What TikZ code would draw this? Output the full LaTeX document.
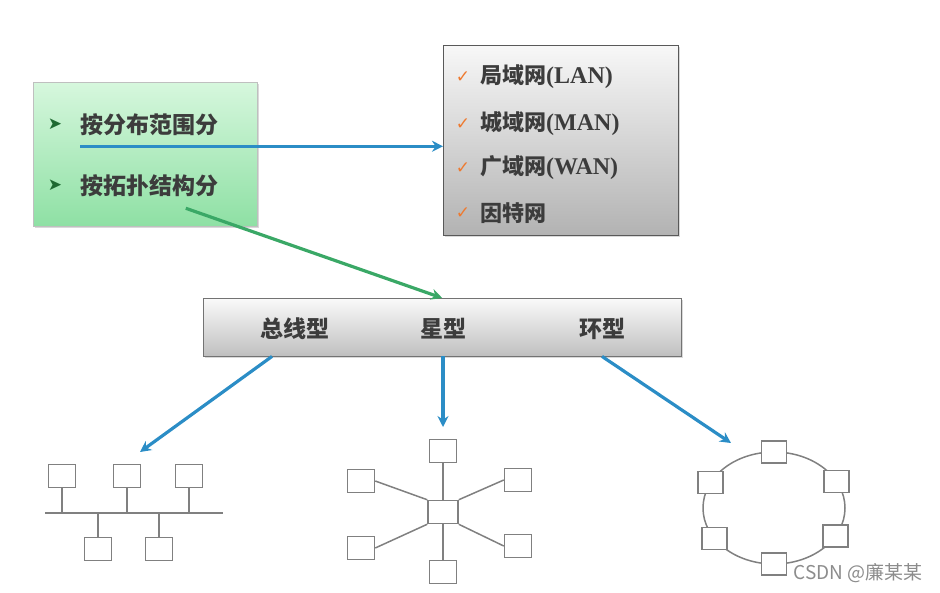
\documentclass[tikz,border=0pt]{standalone}
\usepackage{fontspec}
\setmainfont{Liberation Serif}
\newfontfamily\cjk{Noto Sans CJK SC}
\newfontfamily\symf{DejaVu Sans}
\usetikzlibrary{arrows.meta, calc, shadows}

\definecolor{linkblue}{HTML}{2B8DC6}
\definecolor{linkgreen}{HTML}{3AA866}
\definecolor{tickorange}{HTML}{EE7A30}
\definecolor{bulletgreen}{HTML}{1F6A32}
\definecolor{inkgray}{HTML}{3C3C3C}
\definecolor{mintlight}{HTML}{D6F7DD}
\definecolor{mintdark}{HTML}{8EE0A4}

\tikzset{
  panel/.style={anchor=north west, inner sep=0pt,
    drop shadow={shadow xshift=2pt, shadow yshift=-2pt, opacity=0.3}},
  txt/.style={font=\cjk\bfseries\fontsize{23}{26}\selectfont, text=inkgray, inner sep=0pt},
  bullet/.style={font=\symf\fontsize{17}{17}\selectfont, text=bulletgreen, inner sep=0pt},
  host/.style={draw=black!50, line width=1.5pt, fill=white, inner sep=0pt,
    minimum width=27pt, minimum height=23pt},
  wire/.style={draw=black!50, line width=1.5pt},
  link/.style={->, line width=3.2pt, linkblue}
}

\begin{document}
\begin{tikzpicture}[x=1pt, y=-1pt, >={Stealth[length=11pt, width=11pt]}]
    \useasboundingbox (0,0) rectangle (940,592);

    % classification panel
    \node[panel, draw=black!25, top color=mintlight, bottom color=mintdark,
      minimum width=224pt, minimum height=144pt] (scope) at (33,82) {};
    \node[bullet] (b1) at (55,124) {➤};
    \node[bullet] (b2) at (55,185) {➤};
    \node[txt, anchor=west] (byrange) at (80,125) {按分布范围分};
    \node[txt, anchor=west] (bytopo) at (80,186) {按拓扑结构分};

    % network kinds
    \node[panel, draw=black!65, top color=black!3, bottom color=black!30,
      minimum width=235pt, minimum height=190pt] (kinds) at (443,45) {};
    \foreach \n/\y/\txt in {1/77/{局域网}{\rmfamily\fontsize{24}{24}\selectfont(LAN)},
                           2/124/{城域网}{\rmfamily\fontsize{24}{24}\selectfont(MAN)},
                           3/168/{广域网}{\rmfamily\fontsize{24}{24}\selectfont(WAN)},
                           4/213/{因特网}} {
      \node[font=\symf\fontsize{17}{17}\selectfont, text=tickorange] (t\n) at (463,\y) {✓};
      \node[txt, font=\cjk\bfseries\fontsize{22}{24}\selectfont, anchor=west] (i\n) at (480,\y) {\txt};
    }

    % topology bar
    \node[panel, draw=black!55, top color=black!2, bottom color=black!25,
      minimum width=478pt, minimum height=58pt] (shapes) at (203,298) {};
    \node[txt] (bus) at (295,329) {总线型};
    \node[txt] (star) at (443,329) {星型};
    \node[txt] (ring) at (602,329) {环型};

    % arrows
    \draw[link] ($(byrange.south west)+(0,10)$) -- ($(byrange.south west -| kinds.west)+(0,10)$);
    \draw[link, linkgreen] ($(bytopo.south west)!0.75!(bytopo.south east)+(2,11)$) -- (shapes.north);
    \coordinate (busin) at (140,452);
    \coordinate (starin) at (443,427);
    \coordinate (ringin) at (731,443);
    \draw[link] ($(shapes.south -| bus)+(-23,0)$) -- (busin);
    \draw[link] (shapes.south -| starin) -- (starin);
    \draw[link] (shapes.south -| ring) -- (ringin);

    % bus
    \coordinate (busl) at (45,513);
    \coordinate (busr) at (223,513);
    \draw[wire] (busl) -- (busr);
    \node[host] (bt1) at (62,476) {};
    \node[host] (bt2) at (127,476) {};
    \node[host] (bt3) at (189,476) {};
    \node[host] (bb1) at (98,549) {};
    \node[host] (bb2) at (159,549) {};
    \foreach \n in {bt1,bt2,bt3}
      \draw[wire] (\n.south) -- (\n.south |- busl);
    \foreach \n in {bb1,bb2}
      \draw[wire] (\n.north) -- (\n.north |- busl);

    % star
    \node[host, minimum width=30pt] (hub) at (443,512) {};
    \node[host] (s1) at (443,451) {};
    \node[host] (s2) at (361,481) {};
    \node[host] (s3) at (518,480) {};
    \node[host] (s4) at (361,548) {};
    \node[host] (s5) at (518,546) {};
    \node[host] (s6) at (443,572) {};
    \draw[wire] (hub.north) -- (s1.south);
    \draw[wire] (hub.north west) -- (s2.east);
    \draw[wire] (hub.north east) -- (s3.west);
    \draw[wire] (hub.south west) -- (s4.east);
    \draw[wire] (hub.south east) -- (s5.west);
    \draw[wire] (hub.south) -- (s6.north);

    % ring
    \coordinate (ringc) at (774,508);
    \draw[wire] (ringc) ellipse [x radius=71, y radius=56];
    \foreach \a [count=\n] in {90,153,213,270,330,28}
      \node[host, minimum width=25pt, minimum height=22pt] (r\n)
        at ($(ringc)+({71*cos(\a)},{-56*sin(\a)})$) {};

    \node[font=\cjk\fontsize{19}{19}\selectfont, text=black!45, anchor=east] (mark) at (926,573) {CSDN @廉某某};
\end{tikzpicture}
\end{document}
